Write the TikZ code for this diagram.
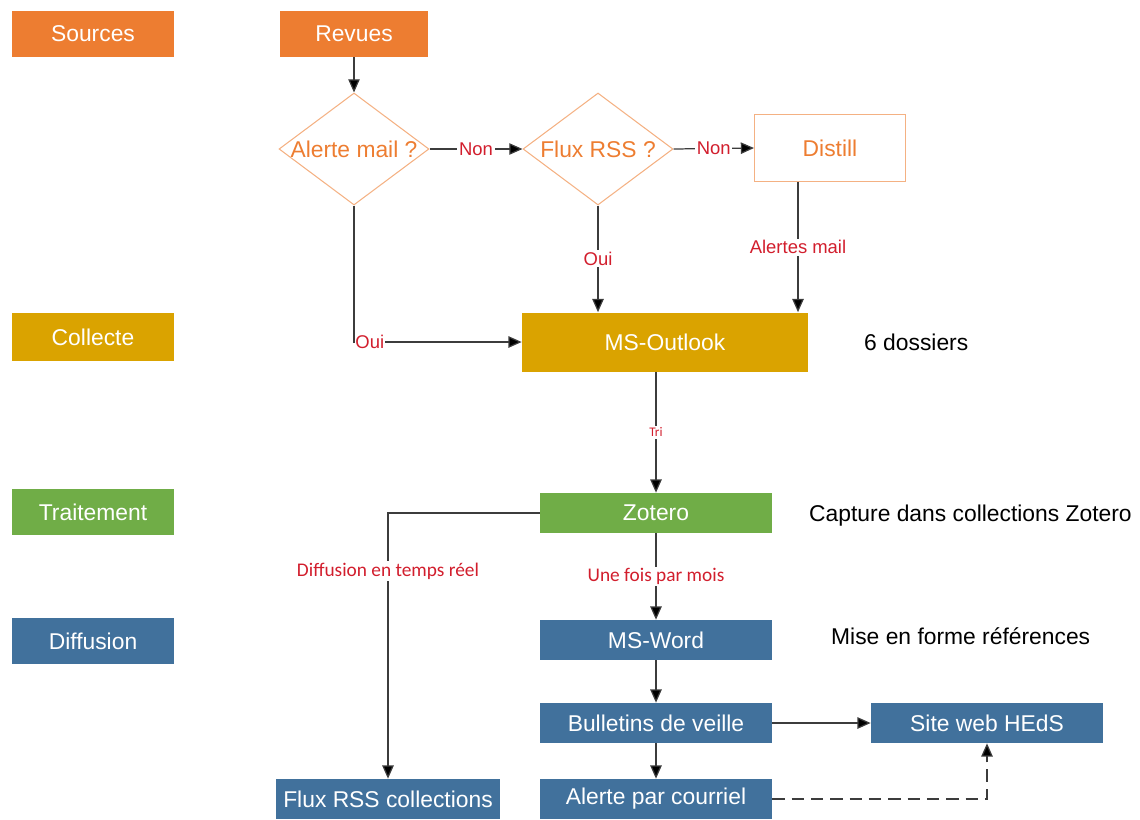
\documentclass[tikz,border=0pt]{standalone}
\usepackage{fontspec}
\setmainfont{Liberation Sans}
\newfontfamily\calibri{Carlito}
\usetikzlibrary{shapes.geometric, arrows.meta, calc}

\definecolor{srcorange}{RGB}{237,125,49}
\definecolor{lightorange}{RGB}{244,177,131}
\definecolor{collgold}{RGB}{218,163,0}
\definecolor{traitgreen}{RGB}{112,173,71}
\definecolor{diffblue}{RGB}{65,113,156}
\definecolor{labred}{RGB}{210,30,45}
\definecolor{linegray}{RGB}{60,60,60}

\newcommand\pxu{0.02cm}

\begin{document}
\begin{tikzpicture}[x=0.02cm, y=-0.02cm,
    % Define the styles for the boxes
    box/.style={rectangle, draw=none, fill=#1, text=white,
        font=\fontsize{13}{15}\selectfont, inner sep=0pt},
    stagebox/.style={box=#1, minimum width=162*\pxu, minimum height=46*\pxu},
    toolbox/.style={box=#1, minimum width=232*\pxu, minimum height=40*\pxu},
    decision/.style={diamond, draw=lightorange, line width=0.6pt,
        inner sep=0pt, minimum width=150*\pxu, minimum height=112*\pxu},
    dectext/.style={text=srcorange, font=\fontsize{13}{15}\selectfont},
    note/.style={anchor=west, font=\fontsize{13}{15}\selectfont},
    % Define the style for the labels on the connectors
    lab/.style={fill=white, text=labred, inner sep=1pt,
        font=\fontsize{10.5}{12}\selectfont},
    clab/.style={lab, font=\calibri\fontsize{11}{13}\selectfont},
    flow/.style={draw=linegray, line width=0.7pt,
        -{Triangle[length=7.5pt, width=6.5pt, fill=black]}}
]

\useasboundingbox (0,0) rectangle (1140,819);

% Define the stages on the left
\node[stagebox=srcorange] (sources) at (93,34) {Sources};
\node[stagebox=collgold, minimum height=48*\pxu] (collecte) at (93,337) {Collecte};
\node[stagebox=traitgreen] (traitement) at (93,512) {Traitement};
\node[stagebox=diffblue] (diffusion) at (93,641) {Diffusion};

% Sources
\node[box=srcorange, minimum width=148*\pxu, minimum height=46*\pxu] (revues) at (354,34) {Revues};
\node[decision, label={[dectext]center:Alerte mail ?}] (alerte) at (354,149) {};
\node[decision, label={[dectext]center:Flux RSS ?}] (flux) at (598,149) {};
\node[rectangle, draw=lightorange, line width=0.6pt, text=srcorange,
    font=\fontsize{13}{15}\selectfont,
    minimum width=151*\pxu, minimum height=67*\pxu] (distill) at (830,148) {Distill};
\coordinate (distout) at ($(distill.south)+(-32,0)$);

% Collecte and traitement
\node[box=collgold, minimum width=286*\pxu, minimum height=59*\pxu] (outlook) at (665,342) {MS-Outlook};
\node[toolbox=traitgreen] (zotero) at (656,513) {Zotero};

% Diffusion
\node[toolbox=diffblue] (word) at (656,640) {MS-Word};
\node[toolbox=diffblue] (bulletins) at (656,723) {Bulletins de veille};
\node[toolbox=diffblue] (site) at (987,723) {Site web HEdS};
\node[toolbox=diffblue] (courriel) at (656,799) {Alerte par courriel};
\node[toolbox=diffblue, minimum width=224*\pxu] (fluxrss) at (388,799) {Flux RSS collections};

% Add the notes on the right
\node[note] (dossiers) at (858,342) {6 dossiers};
\node[note] (capture) at (803,516) {Capture dans collections Zotero};
\node[note] (miseforme) at (825,636) {Mise en forme références};

% Draw the connectors
\draw[flow] (revues) -- (alerte);
\draw[flow] (alerte.east) -- (flux.west) node[lab, midway] {Non};
\draw[flow] (flux.east) -- (distill.west) node[lab, midway] {Non};
\draw[flow] (alerte.south) |- (outlook.west) node[lab, pos=0.5, anchor=west, inner sep=0.5pt] {Oui};
\draw[flow] (flux.south) -- (flux.south |- outlook.north) node[lab, midway] {Oui};
\draw[flow] (distout) -- (distout |- outlook.north) node[lab, midway] {Alertes mail};
\draw[flow] (zotero.north |- outlook.south) -- (zotero.north)
    node[clab, midway, font=\calibri\fontsize{7.5}{9}\selectfont] {Tri};
\draw[flow] (zotero.west) -| (fluxrss.north) node[clab, pos=0.61] {Diffusion en temps réel};
\draw[flow] (zotero) -- (word) node[clab, midway] {Une fois par mois};
\draw[flow] (word) -- (bulletins);
\draw[flow] (bulletins) -- (site);
\draw[flow] (bulletins) -- (courriel);
\draw[flow, dashed, dash pattern=on 7pt off 4pt] (courriel.east) -| (site.south);

\end{tikzpicture}
\end{document}
